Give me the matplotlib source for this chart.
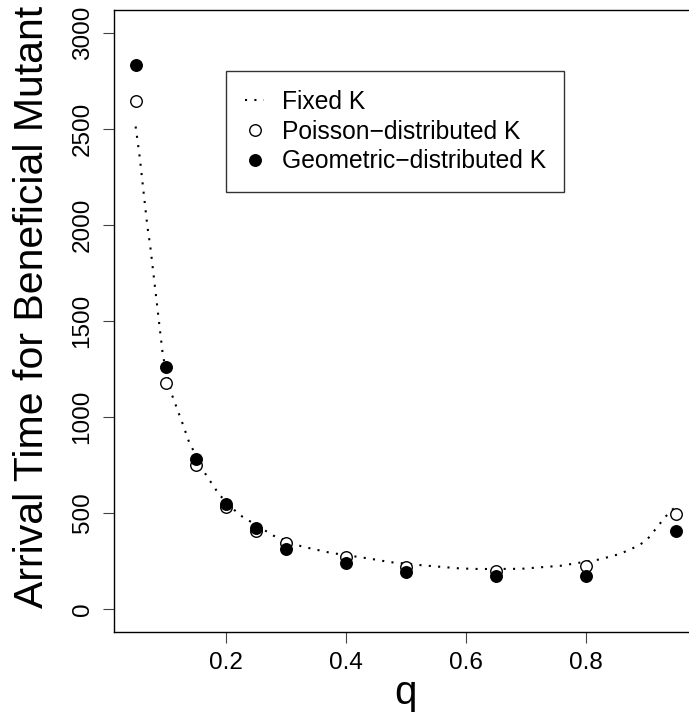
import matplotlib
matplotlib.use("Agg")
import matplotlib.pyplot as plt

plt.rcParams['font.family'] = ['Liberation Sans', 'DejaVu Sans']

# values
q = [0.05, 0.10, 0.15, 0.20, 0.25, 0.30, 0.40, 0.50, 0.65, 0.80, 0.95]
poisson = [2645, 1177, 748, 530, 405, 343, 268, 220, 199, 225, 493]
geometric = [2835, 1258, 779, 545, 422, 313, 237, 190, 173, 173, 405]

# fixed K curve
q_fixed = [0.05, 0.057, 0.064, 0.0695, 0.0745, 0.0955, 0.1105, 0.128, 0.139,
           0.169, 0.179, 0.188, 0.222, 0.28, 0.326, 0.375, 0.442, 0.473,
           0.525, 0.59, 0.623, 0.692, 0.758, 0.823, 0.857, 0.887, 0.901,
           0.912, 0.932, 0.944, 0.95]
t_fixed = [2513, 2348, 2149, 1994, 1885, 1317, 1115, 967, 869,
           687, 645, 599, 492, 381, 326, 292, 261, 244,
           228, 211, 208, 209, 225, 258, 287, 329, 358,
           400, 479, 518, 530]

fig = plt.figure(figsize=(6.89, 7.23), dpi=100)
ax = fig.add_axes([0.1655, 0.1259, 0.847, 0.8603])

ax.plot(q_fixed, t_fixed, color="black", linestyle=(0, (1, 3.5)), linewidth=1.5,
        label="Fixed K")
ax.plot(q, poisson, linestyle="none", marker="o", markersize=8.3,
        markerfacecolor="white", markeredgecolor="black", markeredgewidth=1.0,
        label="Poisson\u2212distributed K")
ax.plot(q, geometric, linestyle="none", marker="o", markersize=8.3,
        markerfacecolor="black", markeredgecolor="black",
        label="Geometric\u2212distributed K")

ax.set_xlim(0.014, 0.986)
ax.set_ylim(-120, 3120)
ax.set_xticks([0.2, 0.4, 0.6, 0.8])
ax.set_xticklabels(["0.2", "0.4", "0.6", "0.8"])
ax.set_yticks([0, 500, 1000, 1500, 2000, 2500, 3000])
ax.tick_params(axis="both", direction="out", length=7.7, width=0.8,
               color="#444444", labelsize=17.5)
ax.tick_params(axis="x", pad=7)
ax.tick_params(axis="y", pad=7)
for lab in ax.get_yticklabels():
    lab.set_rotation(90)
    lab.set_va("center")

for s in ax.spines.values():
    s.set_linewidth(1.0)
    s.set_color("black")

ax.set_xlabel("q", fontsize=29, labelpad=0)
ax.set_ylabel("Arrival Time for Beneficial Mutant", fontsize=29.5)
ax.yaxis.set_label_coords(-0.108, 0.523)

leg = ax.legend(loc="upper left", bbox_to_anchor=(0.192, 0.902), fontsize=17.7,
                frameon=True, fancybox=False, edgecolor="black",
                handlelength=0.8, handletextpad=0.7, borderpad=0.76,
                labelspacing=0.24, borderaxespad=0)
leg.get_frame().set_linewidth(1.0)

fig.savefig("out.png", dpi=100)
